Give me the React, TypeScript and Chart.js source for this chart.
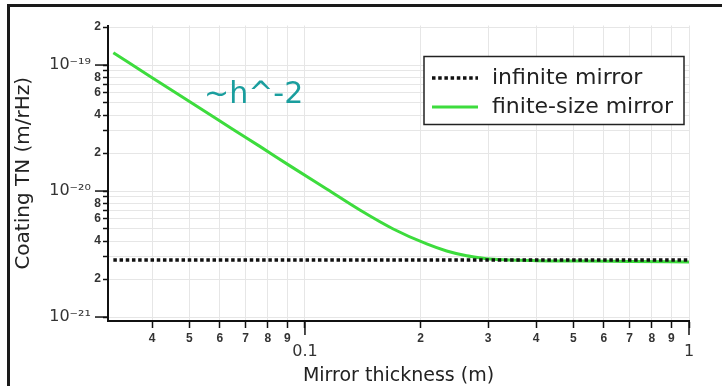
import { useEffect, useRef } from 'react';
import { Chart, registerables } from 'chart.js';

Chart.register(...registerables);

// ---- data ----
const infiniteX = [0.0317, 1];
const infiniteY = [2.836e-21, 2.836e-21];

const finiteX = [0.0317, 0.04, 0.0533, 0.065, 0.0763, 0.0923, 0.1139, 0.139, 0.1698, 0.2075, 0.2339, 0.2637, 0.2857, 0.3033, 0.4, 0.52, 0.7, 1];
const finiteY = [1.252e-19, 7.94e-20, 4.544e-20, 3.078e-20, 2.262e-20, 1.555e-20, 1.038e-20, 7.07e-21, 5.0e-21, 3.8e-21, 3.343e-21, 3.062e-21, 2.952e-21, 2.888e-21, 2.8e-21, 2.785e-21, 2.76e-21, 2.734e-21];

const xTickValues = [0.04, 0.05, 0.06, 0.07, 0.08, 0.09, 0.1, 0.2, 0.3, 0.4, 0.5, 0.6, 0.7, 0.8, 0.9, 1];
const xTickLabels: (string | string[])[] = ['4', '5', '6', '7', '8', '9', ['', '0.1'], '2', '3', '4', '5', '6', '7', '8', '9', ['', '1']];

const yTickValues = [1e-21, 2e-21, 3e-21, 4e-21, 5e-21, 6e-21, 7e-21, 8e-21, 9e-21, 1e-20, 2e-20, 3e-20, 4e-20, 5e-20, 6e-20, 7e-20, 8e-20, 9e-20, 1e-19, 2e-19];
const yTickLabels = ['10⁻²¹  ', '2', '', '4', '', '6', '', '8', '', '10⁻²⁰  ', '2', '', '4', '', '6', '', '8', '', '10⁻¹⁹  ', '2'];

const annotationText = '~h^-2';
const annotationX = 0.0546;
const annotationY = 5.0e-20;

const FAMILY = "'DejaVu Sans', sans-serif";
const SMALL_FAMILY = "'Liberation Sans', Arial, sans-serif";

const isDecade = (v: number) => {
  const l = Math.log10(v);
  return Math.abs(l - Math.round(l)) < 1e-9;
};

const extras = {
  id: 'extras',
  afterDraw(chart: any) {
    const { ctx, chartArea, scales } = chart;
    const xs = scales.x;
    const ys = scales.y;
    ctx.save();
    // longer decade ticks
    ctx.strokeStyle = '#111';
    ctx.lineWidth = 1.5;
    xs.ticks.forEach((t: any) => {
      if (t.major) {
        const px = xs.getPixelForValue(t.value);
        ctx.beginPath();
        ctx.moveTo(px, chartArea.bottom);
        ctx.lineTo(px, chartArea.bottom + 14);
        ctx.stroke();
      }
    });
    ys.ticks.forEach((t: any) => {
      if (t.major) {
        const py = ys.getPixelForValue(t.value);
        ctx.beginPath();
        ctx.moveTo(chartArea.left - 13, py);
        ctx.lineTo(chartArea.left, py);
        ctx.stroke();
      }
    });
    // annotation
    ctx.fillStyle = '#1a9e9e';
    ctx.font = `30px ${FAMILY}`;
    ctx.textAlign = 'left';
    ctx.textBaseline = 'alphabetic';
    ctx.fillText(annotationText, xs.getPixelForValue(annotationX), ys.getPixelForValue(annotationY));
    // legend
    const bw = 260;
    const bh = 68;
    const bx = chartArea.right - 5 - bw;
    const by = chartArea.top + 31;
    ctx.fillStyle = '#fff';
    ctx.fillRect(bx, by, bw, bh);
    ctx.lineWidth = 1.5;
    ctx.strokeStyle = '#222';
    ctx.strokeRect(bx, by, bw, bh);
    chart.data.datasets.forEach((ds: any, i: number) => {
      const cy = by + 21.5 + i * 29;
      ctx.save();
      ctx.strokeStyle = ds.borderColor;
      ctx.lineWidth = ds.borderWidth;
      ctx.setLineDash(ds.borderDash || []);
      ctx.beginPath();
      ctx.moveTo(bx + 8, cy);
      ctx.lineTo(bx + 54, cy);
      ctx.stroke();
      ctx.restore();
      ctx.fillStyle = '#222';
      ctx.font = `22px ${FAMILY}`;
      ctx.textAlign = 'left';
      ctx.textBaseline = 'middle';
      ctx.fillText(ds.label, bx + 68, cy);
    });
    ctx.restore();
  },
};

export default function App() {
  const ref = useRef<HTMLCanvasElement | null>(null);

  useEffect(() => {
    if (!ref.current) return;
    const chart = new Chart(ref.current, {
      type: 'line',
      data: {
        datasets: [
          {
            label: 'infinite mirror',
            data: infiniteX.map((x, i) => ({ x, y: infiniteY[i] })),
            borderColor: '#111111',
            borderWidth: 3.5,
            borderDash: [3.5, 2.7],
            borderCapStyle: 'butt',
            pointRadius: 0,
            fill: false,
          },
          {
            label: 'finite-size mirror',
            data: finiteX.map((x, i) => ({ x, y: finiteY[i] })),
            borderColor: '#3ddc3d',
            borderWidth: 3,
            pointRadius: 0,
            fill: false,
            cubicInterpolationMode: 'monotone',
          },
        ],
      },
      options: {
        animation: false,
        responsive: false,
        layout: { padding: { top: 25.5, right: 33, left: 0, bottom: 0 } },
        plugins: { legend: { display: false }, tooltip: { enabled: false } },
        scales: {
          x: {
            type: 'logarithmic',
            min: 0.0307,
            max: 1,
            afterBuildTicks: (s: any) => {
              s.ticks = xTickValues.map((v) => ({ value: v, major: isDecade(v) }));
            },
            afterFit: (s: any) => {
              s.height = 65;
            },
            ticks: {
              autoSkip: false,
              maxRotation: 0,
              minRotation: 0,
              padding: 5,
              color: '#333',
              callback: (_v: any, i: number) => xTickLabels[i],
              font: (c: any) =>
                c.tick && c.tick.major
                  ? { family: FAMILY, size: 16, lineHeight: 0.8 }
                  : { family: SMALL_FAMILY, size: 12, weight: 'bold', lineHeight: 1 },
            },
            grid: { color: '#e6e6e6', tickColor: '#111', tickLength: 7, tickWidth: 1.5 },
            border: { color: '#111', width: 2 },
            title: {
              display: true,
              text: 'Mirror thickness (m)',
              color: '#222',
              font: { family: FAMILY, size: 19, lineHeight: 1 },
              padding: { top: 0, bottom: 0 },
            },
          },
          y: {
            type: 'logarithmic',
            min: 9.3e-22,
            max: 2.06e-19,
            afterBuildTicks: (s: any) => {
              s.ticks = yTickValues.map((v) => ({ value: v, major: isDecade(v) }));
            },
            afterFit: (s: any) => {
              s.width = 108;
            },
            ticks: {
              autoSkip: false,
              padding: 2,
              color: '#333',
              callback: (_v: any, i: number) => yTickLabels[i],
              font: (c: any) =>
                c.tick && c.tick.major
                  ? { family: FAMILY, size: 16, lineHeight: 1 }
                  : { family: SMALL_FAMILY, size: 12, weight: 'bold', lineHeight: 1 },
            },
            grid: { color: '#e6e6e6', tickColor: '#111', tickLength: 5, tickWidth: 1.5 },
            border: { color: '#111', width: 2 },
            title: {
              display: true,
              text: 'Coating TN (m/rHz)',
              color: '#222',
              font: { family: FAMILY, size: 20, lineHeight: 1 },
              padding: { top: 14, bottom: 0 },
            },
          },
        },
      },
      plugins: [extras],
    } as any);
    return () => chart.destroy();
  }, []);

  return (
    <div style={{ position: 'absolute', left: 0, top: 0, width: 722, height: 386, background: '#fff' }}>
      <canvas ref={ref} width={722} height={386} style={{ display: 'block' }} />
      <div
        style={{
          position: 'absolute',
          left: 7,
          top: 4,
          width: 715,
          height: 382,
          borderTop: '3px solid #1a1a1a',
          borderLeft: '3px solid #1a1a1a',
          boxSizing: 'border-box',
          pointerEvents: 'none',
        }}
      />
    </div>
  );
}
